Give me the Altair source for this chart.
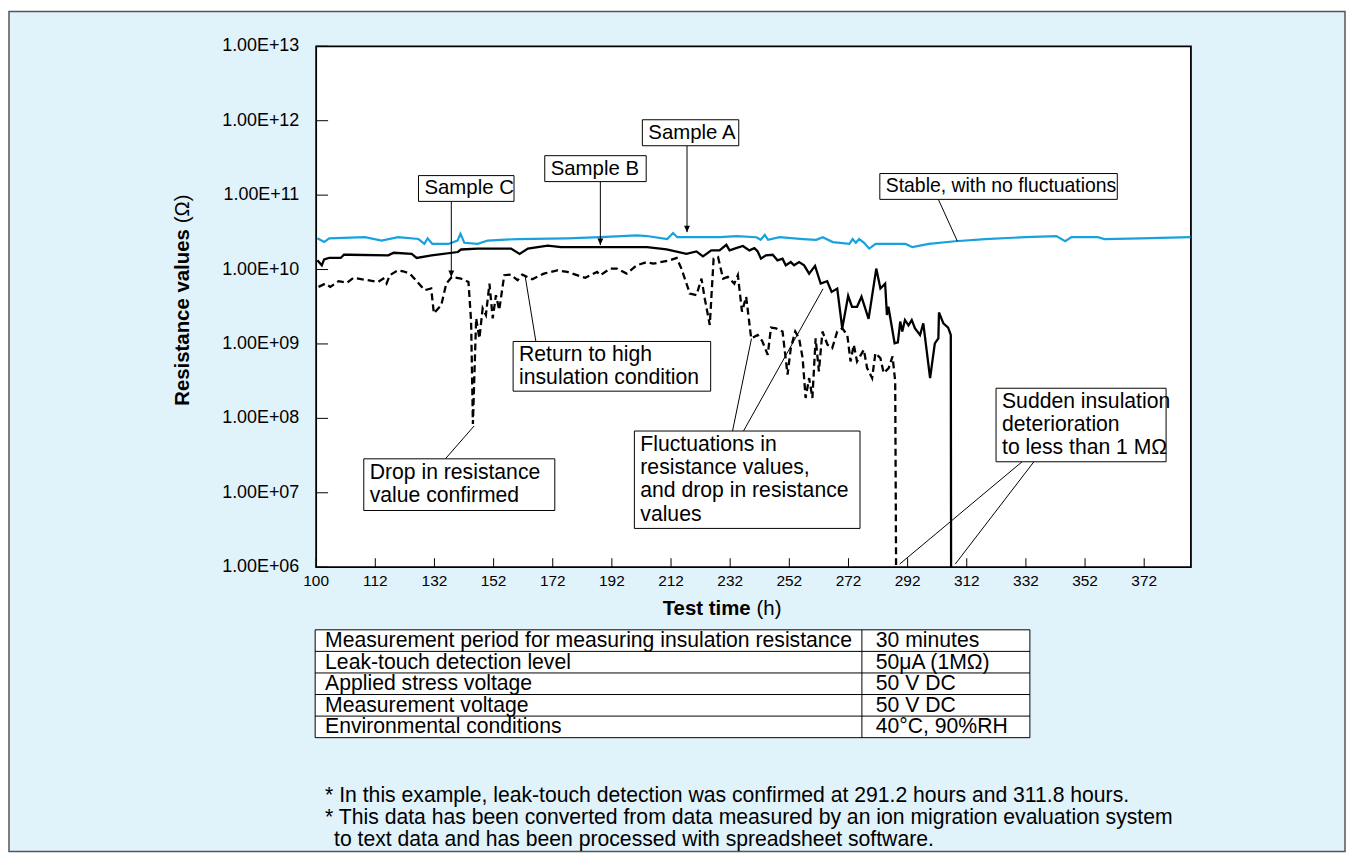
import altair as alt
import pandas as pd

# ---------------- data ----------------
a_hours = [92.4, 94.7, 96.4, 108.5, 114.1, 119.7, 126.6, 128.6, 129.7, 131.3, 136.7, 139.8, 140.8,
           142.1, 146.6, 150.0, 160.1, 176.9, 188.1, 200.5, 203.9, 210.7, 212.7, 214.1, 228.6, 234.2,
           240.9, 242.3, 243.7, 244.8, 248.7, 256.6, 261.1, 263.3, 266.7, 272.3, 273.4, 274.5, 275.6,
           277.3, 279.0, 281.2, 291.3, 293.6, 299.2, 308.1, 318.2, 331.7, 342.3, 345.3, 347.4, 356.3,
           358.6, 370.9, 387.7]
a_ohms = [2.63e10, 2.34e10, 2.63e10, 2.72e10, 2.45e10, 2.72e10, 2.57e10, 2.21e10, 2.63e10, 2.21e10,
          2.21e10, 2.45e10, 3.02e10, 2.29e10, 2.21e10, 2.45e10, 2.57e10, 2.63e10, 2.72e10, 2.87e10,
          2.82e10, 2.57e10, 3.09e10, 2.72e10, 2.72e10, 2.82e10, 2.72e10, 2.51e10, 2.92e10, 2.51e10,
          2.72e10, 2.57e10, 2.51e10, 2.72e10, 2.34e10, 2.21e10, 2.57e10, 2.29e10, 2.57e10, 2.29e10,
          1.91e10, 2.21e10, 2.21e10, 2.00e10, 2.21e10, 2.40e10, 2.57e10, 2.72e10, 2.82e10, 2.40e10,
          2.72e10, 2.72e10, 2.57e10, 2.63e10, 2.72e10]

b_hours = [92.4, 93.9, 94.7, 96.4, 100.3, 101.4, 103.1, 116.4, 118.2, 124.3, 126.0, 131.0, 139.9,
           141.0, 146.6, 157.9, 160.8, 163.6, 170.3, 174.8, 203.9, 210.5, 217.2, 220.6, 222.8, 225.6,
           228.4, 230.7, 231.8, 234.0, 236.3, 238.5, 240.2, 241.3, 242.4, 244.1, 246.4, 248.0, 249.7,
           250.8, 252.5, 253.6, 255.3, 257.0, 258.7, 260.7, 262.6, 264.8, 266.3, 268.2, 269.9, 271.9,
           273.2, 274.9, 276.4, 278.8, 281.4, 282.8, 284.4, 285.0, 285.5, 287.6, 288.7, 289.5, 290.2,
           291.1, 292.3, 293.4, 294.5, 296.2, 297.3, 299.6, 301.2, 302.4, 302.6, 304.1, 305.7, 306.6,
           306.7]
b_ohms = [1.33e10, 1.14e10, 1.37e10, 1.43e10, 1.43e10, 1.58e10, 1.58e10, 1.55e10, 1.68e10, 1.62e10,
          1.43e10, 1.55e10, 1.72e10, 1.86e10, 1.91e10, 1.91e10, 1.62e10, 1.91e10, 2.09e10, 2.00e10,
          2.00e10, 1.87e10, 1.63e10, 1.75e10, 1.50e10, 1.81e10, 1.81e10, 2.15e10, 1.81e10, 1.94e10,
          2.07e10, 1.81e10, 1.94e10, 1.75e10, 1.40e10, 1.55e10, 1.58e10, 1.33e10, 1.40e10, 1.14e10,
          1.26e10, 1.14e10, 1.26e10, 1.14e10, 8.81e9, 1.12e10, 6.47e9, 6.97e9, 5.01e9, 5.56e9,
          1.62e9, 4.44e9, 3.16e9, 3.16e9, 4.31e9, 2.17e9, 1.03e10, 5.56e9, 6.47e9, 2.45e9,
          3.16e9, 1.02e9, 1.05e9, 2.00e9, 1.47e9, 2.10e9, 1.78e9, 2.10e9, 1.62e9, 1.32e9,
          1.89e9, 3.48e8, 1.02e9, 1.19e9, 2.65e9, 1.89e9, 1.66e9, 1.32e9, 1.0e6]

c_hours = [92.8, 95.1, 96.8, 99.6, 102.4, 104.6, 113.0, 114.7, 115.8, 116.9, 119.7, 121.4, 123.7,
           128.7, 130.9, 131.8, 134.3, 136.0, 137.9, 141.0, 143.5, 144.4, 145.0, 146.1, 147.2, 148.3,
           149.4, 150.6, 151.7, 152.8, 153.9, 155.6, 157.8, 160.1, 161.7, 165.1, 169.0, 173.5, 176.9,
           183.0, 187.0, 188.1, 191.4, 193.7, 197.0, 200.4, 203.8, 206.0, 211.6, 213.9, 215.5, 217.8,
           218.3, 220.6, 222.3, 223.4, 225.1, 226.4, 227.9, 229.6, 231.2, 233.4, 234.6, 236.0, 237.4,
           239.1, 241.3, 242.8, 244.7, 245.8, 247.5, 249.7, 251.4, 252.5, 254.0, 255.3, 256.5, 257.5,
           258.7, 259.8, 260.9, 262.0, 263.2, 264.9, 266.5, 268.2, 269.9, 271.6, 272.7, 273.8, 274.9,
           277.2, 278.3, 280.0, 281.1, 282.8, 283.9, 285.6, 286.9, 287.8, 288.1]
c_ohms = [5.85e9, 6.47e9, 5.85e9, 6.97e9, 6.62e9, 7.73e9, 6.82e9, 7.55e9, 6.47e9, 8.39e9,
          9.77e9, 9.48e9, 8.81e9, 5.28e9, 5.56e9, 2.58e9, 3.33e9, 6.47e9, 7.96e9, 7.55e9,
          6.82e9, 2.00e9, 8.39e7, 2.21e9, 1.19e9, 3.01e9, 2.45e9, 6.47e9, 2.21e9, 4.53e9,
          2.86e9, 8.39e9, 8.55e9, 7.19e9, 8.55e9, 7.41e9, 8.81e9, 9.77e9, 9.29e9, 7.73e9,
          9.29e9, 8.39e9, 1.03e10, 1.03e10, 8.81e9, 1.14e10, 1.26e10, 1.20e10, 1.33e10, 1.43e10,
          1.03e10, 5.56e9, 4.76e9, 4.53e9, 7.55e9, 4.08e9, 1.80e9, 1.40e10, 1.47e10, 7.55e9,
          7.96e9, 6.47e9, 8.39e9, 2.71e9, 4.31e9, 1.19e9, 1.32e9, 1.10e9, 7.16e8, 1.66e9,
          1.62e9, 1.47e9, 3.87e8, 8.77e8, 1.47e9, 1.19e9, 6.46e8, 1.88e8, 3.48e8, 1.88e8,
          1.19e9, 4.29e8, 1.47e9, 9.75e8, 8.77e8, 1.47e9, 1.62e9, 1.32e9, 5.82e8, 9.75e8,
          5.82e8, 8.36e8, 4.74e8, 3.48e8, 7.52e8, 6.46e8, 4.06e8, 4.74e8, 6.79e8, 3.15e8, 1.0e6]

y_tick_values = [1e6, 1e7, 1e8, 1e9, 1e10, 1e11, 1e12, 1e13]
y_tick_labels = ["1.00E+06", "1.00E+07", "1.00E+08", "1.00E+09", "1.00E+10", "1.00E+11",
                 "1.00E+12", "1.00E+13"]
x_tick_values = [92, 112, 132, 152, 172, 192, 212, 232, 252, 272, 292, 312, 332, 352, 372]
x_tick_labels = ["100", "112", "132", "152", "172", "192", "212", "232", "252", "272", "292",
                 "312", "332", "352", "372"]

# annotation boxes: text, left/right hour, top/bottom resistance
ann_text = ["Sample A", "Sample B", "Sample C", "Stable, with no fluctuations",
            "Return to high\ninsulation condition", "Drop in resistance\nvalue confirmed",
            "Fluctuations in\nresistance values,\nand drop in resistance\nvalues",
            "Sudden insulation\ndeterioration\nto less than 1 M\u03a9"]
ann_h1 = [202.3, 169.3, 126.6, 282.6, 158.6, 108.1, 199.6, 321.9]
ann_h2 = [234.9, 203.6, 158.9, 362.9, 225.4, 172.7, 275.9, 379.4]
ann_top = [1.03e12, 3.39e11, 1.83e11, 1.95e11, 1.08e9, 2.86e7, 6.76e7, 2.54e8]
ann_bottom = [4.61e11, 1.52e11, 8.24e10, 8.77e10, 2.32e8, 5.78e6, 3.32e6, 2.61e7]

# leader lines (from box to curve)
lead_h1 = [217.4, 188.1, 137.7, 302.4, 166.3, 135.7, 232.8, 236.5, 330.7, 334.7]
lead_r1 = [4.61e11, 1.52e11, 8.24e10, 8.77e10, 1.08e9, 2.86e7, 6.76e7, 6.76e7, 2.61e7, 2.61e7]
lead_h2 = [217.4, 188.1, 137.7, 308.8, 162.6, 145.4, 239.2, 263.4, 289.3, 308.1]
lead_r2 = [3.18e10, 2.13e10, 7.96e9, 2.41e10, 8.47e9, 7.89e7, 1.18e9, 5.51e9, 1.10e6, 1.10e6]
arrow_idx = [0, 1, 2]

table_param = ["Measurement period for measuring insulation resistance",
               "Leak-touch detection level", "Applied stress voltage",
               "Measurement voltage", "Environmental conditions"]
table_value = ["30 minutes", "50\u03bcA (1M\u03a9)", "50 V DC", "50 V DC", "40\u00b0C, 90%RH"]

footnotes = ["* In this example, leak-touch detection was confirmed at 291.2 hours and 311.8 hours.",
             "* This data has been converted from data measured by an ion migration evaluation system",
             "to text data and has been processed with spreadsheet software."]

# ---------------- styling / layout ----------------
FONT = "Liberation Sans"
BG = "#e0f2fa"
BLUE = "#17a2df"
W, H = 880, 524
ann_font_size = [20.5, 20.5, 20.5, 19.5, 21.3, 21.3, 21.3, 21.3]
LINE_H = 23.5
TXT_FS = 21.3

xscale = alt.Scale(domain=[92, 387.8], nice=False, zero=False)
yscale = alt.Scale(type="log", domain=[1e6, 1e13], nice=False)


def X(field):
    return alt.X(field, type="quantitative", scale=xscale, axis=None)


def Y(field):
    return alt.Y(field, type="quantitative", scale=yscale, axis=None)


one = pd.DataFrame({"a": [0]})

# background & frames
bg = alt.Chart(one).mark_rect(fill=BG, stroke="#555555", strokeWidth=1.5).encode(
    x=alt.value(-309), x2=alt.value(1035), y=alt.value(-35), y2=alt.value(810))
plot_bg = alt.Chart(one).mark_rect(fill="white", stroke="black", strokeWidth=1.8).encode(
    x=alt.value(0), x2=alt.value(W), y=alt.value(0), y2=alt.value(H))

# inward ticks and tick labels
ytick_df = pd.DataFrame({"v": y_tick_values, "label": y_tick_labels})
yticks = alt.Chart(ytick_df).mark_rule(color="black", strokeWidth=1).encode(
    y=Y("v"), x=alt.value(0), x2=alt.value(12))
ylabels = alt.Chart(ytick_df).mark_text(align="right", baseline="middle", font=FONT,
                                        fontSize=18, color="black").encode(
    y=Y("v"), x=alt.value(-17), text="label")
xtick_df = pd.DataFrame({"h": x_tick_values, "label": x_tick_labels})
xticks = alt.Chart(xtick_df).mark_rule(color="black", strokeWidth=1).encode(
    x=X("h"), y=alt.value(H - 9), y2=alt.value(H))
xlabels = alt.Chart(xtick_df).mark_text(align="center", baseline="middle", font=FONT,
                                        fontSize=15.5, color="black").encode(
    x=X("h"), y=alt.value(H + 14), text="label")

# series
df_a = pd.DataFrame({"h": a_hours, "r": a_ohms})
df_b = pd.DataFrame({"h": b_hours, "r": b_ohms})
df_c = pd.DataFrame({"h": c_hours, "r": c_ohms})
line_a = alt.Chart(df_a).mark_line(color=BLUE, strokeWidth=2.2, clip=True).encode(
    x=X("h"), y=Y("r"))
line_b = alt.Chart(df_b).mark_line(color="black", strokeWidth=2.3, clip=True).encode(
    x=X("h"), y=Y("r"))
line_c = alt.Chart(df_c).mark_line(color="black", strokeWidth=2.3, strokeDash=[7, 4],
                                   clip=True).encode(x=X("h"), y=Y("r"))

# annotations
ann_df = pd.DataFrame({"text": ann_text, "h1": ann_h1, "h2": ann_h2,
                       "top": ann_top, "bottom": ann_bottom, "fs": ann_font_size})
ann_df["mid"] = (ann_df["top"] * ann_df["bottom"]) ** 0.5
ann_df["n"] = ann_df["text"].str.count("\n") + 1
boxes = alt.Chart(ann_df).mark_rect(fill="white", stroke="black", strokeWidth=1).encode(
    x=X("h1"), x2="h2", y=Y("top"), y2="bottom")
text_layers = []
for n in sorted(ann_df["n"].unique()):
    text_layers.append(
        alt.Chart(ann_df[ann_df["n"] == n]).mark_text(
            align="left", baseline="middle", dx=6, dy=-(n - 1) * LINE_H / 2, font=FONT,
            lineBreak="\n", lineHeight=LINE_H, color="black"
        ).encode(x=X("h1"), y=Y("mid"), text="text",
                 size=alt.Size("fs:Q", scale=None, legend=None)))

lead_df = pd.DataFrame({"h1": lead_h1, "r1": lead_r1, "h2": lead_h2, "r2": lead_r2})
leaders = alt.Chart(lead_df).mark_rule(color="black", strokeWidth=1).encode(
    x=X("h1"), y=Y("r1"), x2="h2", y2="r2")
arrow_df = lead_df.iloc[arrow_idx]
arrows = alt.Chart(arrow_df).mark_point(shape="M-0.45,-1L0.45,-1L0,0Z", filled=True,
                                        color="black", opacity=1, size=170).encode(
    x=X("h2"), y=Y("r2"))

# axis titles
xt1 = alt.Chart(one).mark_text(text="Test time", font=FONT, fontSize=20.5, fontWeight="bold",
                               align="right", baseline="middle", color="black").encode(
    x=alt.value(437), y=alt.value(566))
xt2 = alt.Chart(one).mark_text(text="(h)", font=FONT, fontSize=20.5, align="left",
                               baseline="middle", color="black").encode(
    x=alt.value(443), y=alt.value(566))
yt1 = alt.Chart(one).mark_text(text="Resistance values", font=FONT, fontSize=20.5,
                               fontWeight="bold", angle=270, align="right", baseline="middle",
                               color="black").encode(x=alt.value(-134), y=alt.value(184))
yt2 = alt.Chart(one).mark_text(text="(\u03a9)", font=FONT, fontSize=20.5, angle=270,
                               align="left", baseline="middle", color="black").encode(
    x=alt.value(-134), y=alt.value(178))

# table
T_TOP, ROW_H = 587, 21.7
COL_X = 549
tab_df = pd.DataFrame({"param": table_param, "value": table_value})
tab_df["ytop"] = [T_TOP + i * ROW_H for i in range(len(tab_df))]
tab_df["ymid"] = tab_df["ytop"] + ROW_H / 2 + 0.5
t_bottom = T_TOP + ROW_H * len(tab_df)
table_box = alt.Chart(one).mark_rect(fill="white", stroke="black", strokeWidth=1).encode(
    x=alt.value(-1), x2=alt.value(718), y=alt.value(T_TOP), y2=alt.value(t_bottom))
table_h = alt.Chart(tab_df.iloc[1:]).mark_rule(color="black", strokeWidth=1).encode(
    y=alt.Y("ytop:Q", scale=None), x=alt.value(-1), x2=alt.value(718))
table_v = alt.Chart(one).mark_rule(color="black", strokeWidth=1).encode(
    x=alt.value(COL_X), y=alt.value(T_TOP), y2=alt.value(t_bottom))
table_t1 = alt.Chart(tab_df).mark_text(align="left", baseline="middle", font=FONT,
                                       fontSize=TXT_FS, color="black").encode(
    x=alt.value(9), y=alt.Y("ymid:Q", scale=None), text="param")
table_t2 = alt.Chart(tab_df).mark_text(align="left", baseline="middle", font=FONT,
                                       fontSize=TXT_FS, color="black").encode(
    x=alt.value(COL_X + 14), y=alt.Y("ymid:Q", scale=None), text="value")

# footnotes
fn_df = pd.DataFrame({"text": footnotes, "xp": [9, 9, 18], "yp": [754, 776, 798]})
foot = alt.Chart(fn_df).mark_text(align="left", baseline="middle", font=FONT, fontSize=TXT_FS,
                                  color="black").encode(
    x=alt.X("xp:Q", scale=None), y=alt.Y("yp:Q", scale=None), text="text")

chart = alt.layer(
    bg, plot_bg, line_c, line_b, line_a, yticks, xticks, ylabels, xlabels, leaders, arrows,
    boxes, *text_layers, xt1, xt2, yt1, yt2, table_box, table_h, table_v, table_t1, table_t2,
    foot
).properties(width=W, height=H, padding=0, background="white").configure_view(stroke=None)

chart.save("out.html", embed_options={"renderer": "svg", "actions": False})
